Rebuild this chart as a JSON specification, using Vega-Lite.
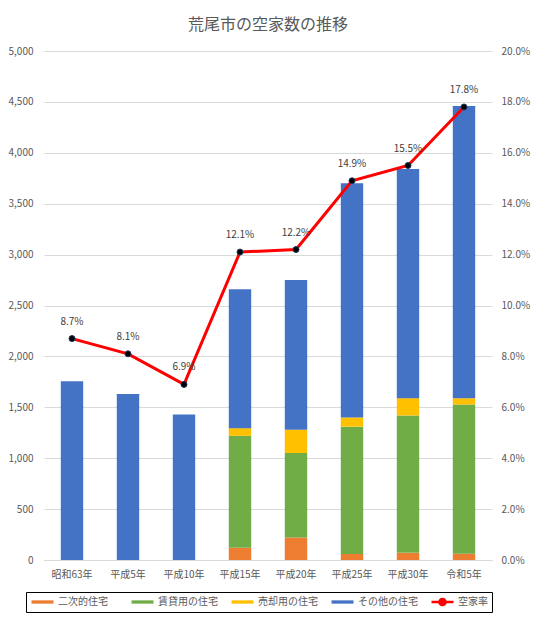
{
  "$schema": "https://vega.github.io/schema/vega-lite/v6.json",
  "description": "荒尾市の空家数の推移",
  "width": 448,
  "height": 509,
  "autosize": {"type": "none"},
  "padding": {"left": 44, "top": 51, "right": 44, "bottom": 60},
  "background": "white",
  "config": {
    "font": "Noto Sans CJK JP",
    "view": {"stroke": null},
    "axis": {"labelColor": "#595959", "labelFontSize": 10, "title": null}
  },
  "title": {
    "text": "荒尾市の空家数の推移",
    "anchor": "middle",
    "fontSize": 16,
    "fontWeight": "normal",
    "color": "#595959",
    "offset": 13
  },
  "datasets": {
    "houses": [
      {"year": "昭和63年", "type": "その他の住宅", "count": 1757},
      {"year": "平成5年", "type": "その他の住宅", "count": 1630},
      {"year": "平成10年", "type": "その他の住宅", "count": 1430},
      {"year": "平成15年", "type": "二次的住宅", "count": 120},
      {"year": "平成15年", "type": "賃貸用の住宅", "count": 1100},
      {"year": "平成15年", "type": "売却用の住宅", "count": 75},
      {"year": "平成15年", "type": "その他の住宅", "count": 1365},
      {"year": "平成20年", "type": "二次的住宅", "count": 220},
      {"year": "平成20年", "type": "賃貸用の住宅", "count": 830},
      {"year": "平成20年", "type": "売却用の住宅", "count": 230},
      {"year": "平成20年", "type": "その他の住宅", "count": 1470},
      {"year": "平成25年", "type": "二次的住宅", "count": 60},
      {"year": "平成25年", "type": "賃貸用の住宅", "count": 1250},
      {"year": "平成25年", "type": "売却用の住宅", "count": 90},
      {"year": "平成25年", "type": "その他の住宅", "count": 2300},
      {"year": "平成30年", "type": "二次的住宅", "count": 70},
      {"year": "平成30年", "type": "賃貸用の住宅", "count": 1350},
      {"year": "平成30年", "type": "売却用の住宅", "count": 170},
      {"year": "平成30年", "type": "その他の住宅", "count": 2250},
      {"year": "令和5年", "type": "二次的住宅", "count": 62},
      {"year": "令和5年", "type": "賃貸用の住宅", "count": 1465},
      {"year": "令和5年", "type": "売却用の住宅", "count": 62},
      {"year": "令和5年", "type": "その他の住宅", "count": 2871}
    ],
    "rate": [
      {"year": "昭和63年", "rate": 0.087},
      {"year": "平成5年", "rate": 0.081},
      {"year": "平成10年", "rate": 0.069},
      {"year": "平成15年", "rate": 0.121},
      {"year": "平成20年", "rate": 0.122},
      {"year": "平成25年", "rate": 0.149},
      {"year": "平成30年", "rate": 0.155},
      {"year": "令和5年", "rate": 0.178}
    ]
  },
  "encoding": {
    "x": {
      "field": "year",
      "type": "nominal",
      "sort": ["昭和63年", "平成5年", "平成10年", "平成15年", "平成20年", "平成25年", "平成30年", "令和5年"],
      "scale": {"paddingInner": 0.6, "paddingOuter": 0.3},
      "axis": {"labelAngle": 0, "ticks": false, "domainColor": "#d9d9d9", "labelPadding": 9}
    }
  },
  "layer": [
    {
      "data": {"name": "houses"},
      "transform": [
        {"calculate": "indexof(['二次的住宅', '賃貸用の住宅', '売却用の住宅', 'その他の住宅'], datum.type)", "as": "stackOrder"}
      ],
      "mark": {"type": "bar"},
      "encoding": {
        "y": {
          "field": "count",
          "type": "quantitative",
          "stack": "zero",
          "scale": {"domain": [0, 5000]},
          "axis": {
            "values": [0, 500, 1000, 1500, 2000, 2500, 3000, 3500, 4000, 4500, 5000],
            "format": ",d",
            "gridColor": "#d9d9d9",
            "domain": false,
            "ticks": false,
            "labelPadding": 11
          }
        },
        "order": {"field": "stackOrder", "type": "quantitative", "sort": "ascending"},
        "color": {
          "field": "type",
          "type": "nominal",
          "scale": {
            "domain": ["二次的住宅", "賃貸用の住宅", "売却用の住宅", "その他の住宅", "空家率"],
            "range": ["#ed7d31", "#70ad47", "#ffc000", "#4472c4", "#ff0000"]
          },
          "legend": {
            "orient": "none",
            "legendX": -18,
            "legendY": 541,
            "direction": "horizontal",
            "columns": 5,
            "gridAlign": "all",
            "title": null,
            "padding": 4,
            "columnPadding": 12,
            "clipHeight": 12,
            "strokeColor": "black",
            "labelFontSize": 10,
            "labelColor": "#595959",
            "labelOffset": 3,
            "symbolSize": 484,
            "symbolType": "M-1,-0.15H1V0.15H-1Z",
            "encode": {
              "symbols": {
                "update": {
                  "shape": {"signal": "datum.value === '空家率' ? 'M-1,0H1M0.28,0A0.28,0.28 0 1,1 -0.28,0A0.28,0.28 0 1,1 0.28,0Z' : 'M-1,-0.15H1V0.15H-1Z'"},
                  "fill": {"signal": "datum.value === '空家率' ? 'black' : scale('color', datum.value)"},
                  "stroke": {"signal": "datum.value === '空家率' ? '#ff0000' : 'transparent'"},
                  "strokeWidth": {"value": 2.5},
                  "opacity": {"value": 1}
                }
              }
            }
          }
        }
      }
    },
    {
      "data": {"name": "rate"},
      "encoding": {
        "y": {
          "field": "rate",
          "type": "quantitative",
          "scale": {"domain": [0, 0.2]},
          "axis": {
            "orient": "right",
            "format": ".1%",
            "values": [0, 0.02, 0.04, 0.06, 0.08, 0.1, 0.12, 0.14, 0.16, 0.18, 0.2],
            "grid": false,
            "domain": false,
            "ticks": false,
            "labelPadding": 9
          }
        }
      },
      "layer": [
        {"mark": {"type": "line", "color": "#ff0000", "strokeWidth": 3}},
        {"mark": {"type": "point", "filled": true, "fill": "black", "stroke": "#1f3864", "strokeWidth": 1, "size": 36, "opacity": 1}},
        {
          "mark": {"type": "text", "dy": -17, "fontSize": 10, "color": "#404040"},
          "encoding": {"text": {"field": "rate", "type": "quantitative", "format": ".1%"}}
        }
      ]
    }
  ],
  "resolve": {"scale": {"y": "independent"}}
}
